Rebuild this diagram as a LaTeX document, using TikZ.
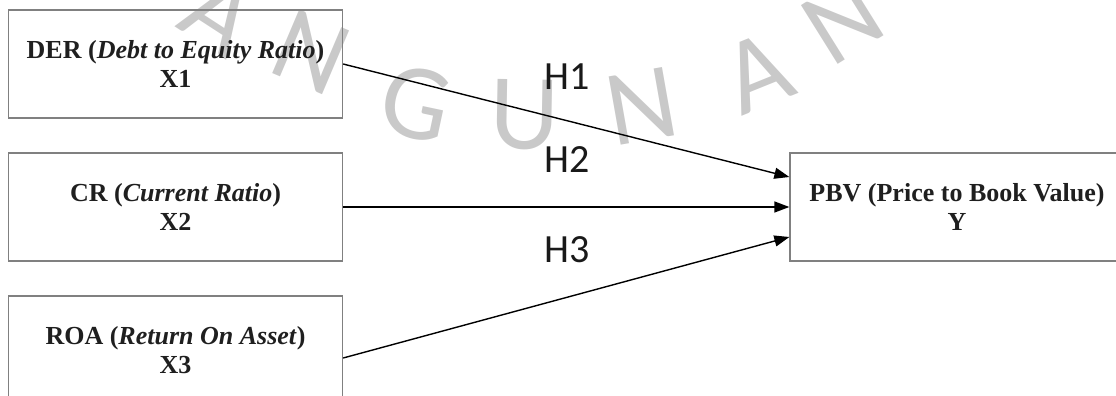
\documentclass[tikz,border=0pt]{standalone}
\usepackage{fontspec}
\setmainfont{Liberation Serif}
\newfontfamily\hfont{Carlito}
\usetikzlibrary{arrows.meta}
\tikzset{
  varbox/.style={draw=black!50, line width=1.3pt, minimum width=334pt, minimum height=108pt,
    align=center, inner sep=0pt, text=black!88,
    font=\fontsize{26}{29.5}\selectfont\bfseries},
  hlabel/.style={font=\hfont\fontsize{40}{40}\selectfont, text=black!90, inner sep=0pt},
  conn/.style={line width=1.4pt, -{Triangle[length=15pt,width=11pt]}},
  wm/.style={font=\hfont\fontsize{108}{108}\selectfont, text=black!21, inner sep=0pt,
    text height=70pt, text depth=0pt}
}
\begin{document}
\begin{tikzpicture}[x=1pt,y=-1pt]
\useasboundingbox (0,0) rectangle (1116,396);
\clip (0,0) rectangle (1116,396);
% watermark
\foreach \ch/\px/\py/\ang [count=\i] in {A/220/14/-33, N/311/52/-23, G/416/103/-12, U/525/114/-1, N/642/106/10, A/757/72/22, N/843/20/32}{
  \node[wm, rotate=\ang] (w\i) at (\px,\py) {\ch};
}
% boxes
\node[varbox] (x1) at (175.5,64) {DER (\textit{Debt to Equity Ratio})\\X1};
\node[varbox] (x2) at (175.5,207) {CR (\textit{Current Ratio})\\X2};
\node[varbox] (x3) at (175.5,350) {ROA (\textit{Return On Asset})\\X3};
\node[varbox] (y) at (957,207) {PBV (Price to Book Value)\\Y};
% connectors
\draw[conn] (x1.east) -- ([yshift=30pt]y.west);
\draw[conn] (x2.east) -- (y.west);
\draw[conn] ([yshift=-8pt]x3.east) -- ([yshift=-30pt]y.west);
% labels
\node[hlabel] (h1) at (567,77) {H1};
\node[hlabel] (h2) at (567,160) {H2};
\node[hlabel] (h3) at (567,250) {H3};
\end{tikzpicture}
\end{document}
